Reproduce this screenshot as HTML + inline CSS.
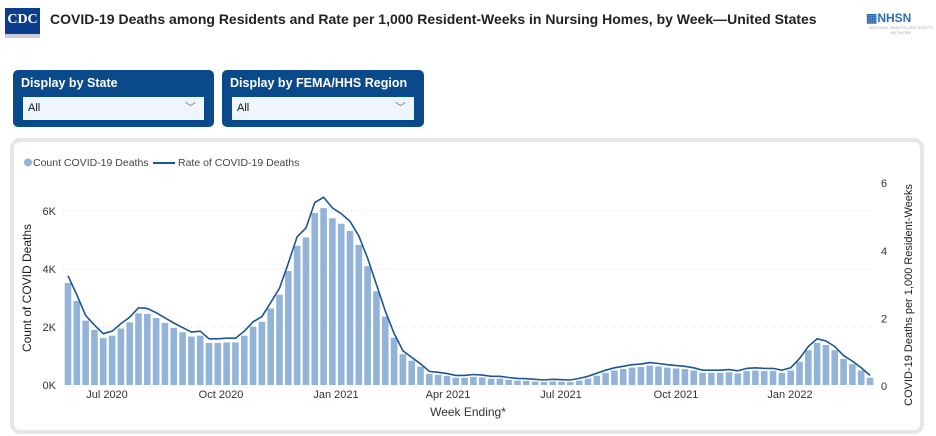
<!DOCTYPE html>
<html><head><meta charset="utf-8">
<style>
body{margin:0;width:936px;height:436px;background:#fff;font-family:"Liberation Sans",sans-serif;position:relative;overflow:hidden}
.t{position:absolute;left:50px;top:11px;font-size:14px;font-weight:bold;color:#222;letter-spacing:0px}
.cdc{position:absolute;left:5px;top:8px;width:35px;height:26px;background:#0b3d8c;color:#fff;font-family:"Liberation Serif",serif;font-size:14px;font-weight:bold;text-align:center;line-height:24px;border-bottom:4px solid #ccd}
.nh{position:absolute;left:866px;top:11px;font-size:12px;font-weight:bold;color:#2d6db5}
.nh small{display:block;font-size:4px;color:#aaa;font-weight:normal;text-align:center}
.dd{position:absolute;top:70px;height:57px;background:#0a4a8a;border-radius:5px}
.dd b{position:absolute;left:8px;top:6px;color:#fff;font-size:12.5px}
.dd div{position:absolute;left:10px;top:27px;right:10px;height:23px;background:#eef5fd;font-size:11px;line-height:23px;padding-left:5px;color:#111}
.dd div span{position:absolute;right:8px;top:0px;color:#777;font-size:11px}
.card{position:absolute;left:10px;top:138px;width:906px;height:288px;border:4px solid #e6e6e6;border-radius:10px}
</style></head><body>
<div class="cdc">CDC</div>
<div class="t">COVID-19 Deaths among Residents and Rate per 1,000 Resident-Weeks in Nursing Homes, by Week—United States</div>
<div class="nh">▦NHSN<small>NATIONAL HEALTHCARE SAFETY NETWORK</small></div>
<div class="dd" style="left:13px;width:201px"><b>Display by State</b><div>All<span>﹀</span></div></div>
<div class="dd" style="left:222px;width:202px"><b>Display by FEMA/HHS Region</b><div>All<span>﹀</span></div></div>
<div class="card"></div>
<svg id="s" width="936" height="436" style="position:absolute;left:0;top:0" font-family="Liberation Sans, sans-serif"></svg>
<script>
var v=[3.52,2.9,2.22,1.9,1.62,1.7,1.95,2.16,2.47,2.45,2.31,2.14,1.97,1.82,1.67,1.7,1.45,1.45,1.47,1.47,1.7,2.01,2.18,2.64,3.11,3.93,4.8,5.09,5.93,6.1,5.75,5.56,5.31,4.83,4.1,3.23,2.36,1.63,1.06,0.84,0.63,0.38,0.35,0.31,0.25,
0.25,0.28,0.26,0.22,0.22,0.18,0.15,0.14,0.12,0.1,0.1,0.12,0.11,0.1,0.15,0.22,0.32,0.42,0.5,0.55,0.6,0.62,0.67,0.64,0.6,0.57,0.55,0.5,0.42,0.42,0.42,0.44,0.4,0.48,0.5,0.48,0.48,0.42,0.5,0.8,1.2,1.45,1.38,1.2,0.9,0.72,0.5,0.25];
v.splice(55,1);
var s='',B=385,K=29;
[2,4,6].forEach(function(k){s+='<line x1="63" x2="875" y1="'+(B-k*K)+'" y2="'+(B-k*K)+'" stroke="#d8d8d8" stroke-dasharray="1,3"/>';
s+='<text x="56" y="'+(B-k*K+4)+'" font-size="11" text-anchor="end" fill="#333">'+k+'K</text>';});
s+='<text x="56" y="'+(B+4)+'" font-size="11" text-anchor="end" fill="#333">0K</text>';
[0,2,4,6].forEach(function(r,i){s+='<text x="884" y="'+(386-r*33.8+4)+'" font-size="11" text-anchor="middle" fill="#333">'+r+'</text>';});
var pts=[];
for(var i=0;i<v.length;i++){var cx=68+i*(802/(v.length-1)),h=v[i]*K;
s+='<rect x="'+(cx-3.3)+'" y="'+(B-h)+'" width="6.6" height="'+h+'" fill="#93b4d8"/>';
pts.push(cx.toFixed(1)+','+(B-h*1.05-2).toFixed(1));}
s+='<polyline points="'+pts.join(' ')+'" fill="none" stroke="#1a5794" stroke-width="1.6"/>';
[['Jul 2020',107],['Oct 2020',221],['Jan 2021',336],['Apr 2021',448],['Jul 2021',561],['Oct 2021',676],['Jan 2022',790]].forEach(function(l){s+='<text x="'+l[1]+'" y="398" font-size="11" text-anchor="middle" fill="#333">'+l[0]+'</text>';});
s+='<text x="468" y="416" font-size="12" text-anchor="middle" fill="#333">Week Ending*</text>';
s+='<text transform="translate(31,288) rotate(-90)" font-size="12" text-anchor="middle" fill="#222">Count of COVID Deaths</text>';
s+='<text transform="translate(912,295) rotate(-90)" font-size="11" text-anchor="middle" fill="#222">COVID-19 Deaths per 1,000 Resident-Weeks</text>';
s+='<circle cx="28" cy="162.5" r="4" fill="#93b4d8"/><text x="33" y="166" font-size="10.5" fill="#444">Count COVID-19 Deaths</text>';
s+='<line x1="153" x2="175" y1="163" y2="163" stroke="#1a5794" stroke-width="2"/><text x="178" y="166" font-size="10.5" fill="#444">Rate of COVID-19 Deaths</text>';
document.getElementById('s').innerHTML=s;
</script>
</body></html>
